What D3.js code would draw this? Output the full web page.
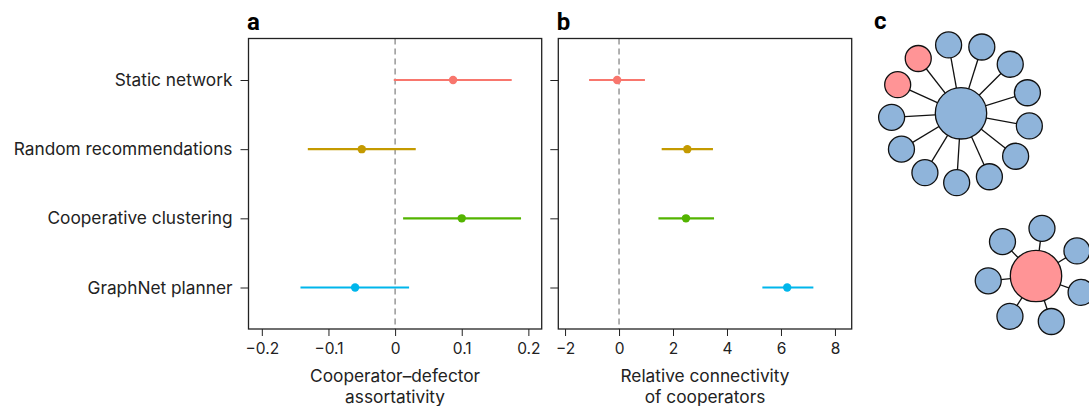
<!DOCTYPE html>
<meta charset="utf-8">
<style>
body {
  margin: 0;
  background: #fff;
  font-family: Inter, "Noto Sans", sans-serif;
}
.axis text {
  font-family: Inter, "Noto Sans", sans-serif;
  font-size: 15.5px;
  fill: #222;
}
.ylab text {
  font-size: 17.3px;
}
.axis path, .axis line {
  stroke: #222;
}
.frame {
  fill: none;
  stroke: #222;
  stroke-width: 1.3;
}
.panel {
  font-family: Roboto, Inter, sans-serif;
  font-weight: bold;
  font-size: 24px;
}
.node {
  stroke: #111;
  stroke-width: 1.3;
}
</style>
<body>
<script src="https://d3js.org/d3.v7.min.js"></script>
<script>

var width = 1089,
    height = 406;

var conditions = ["Static network", "Random recommendations", "Cooperative clustering", "GraphNet planner"];
var colors = ["#F8766D", "#C49A00", "#53B400", "#00B6EB"];

// assortativity: mean, lower, upper
var assortMean = [0.087, -0.050, 0.100, -0.060];
var assortLow  = [-0.002, -0.131, 0.012, -0.142];
var assortHigh = [0.175, 0.031, 0.189, 0.021];
var assortTicks = [-0.2, -0.1, 0, 0.1, 0.2];

// relative connectivity: mean, lower, upper
var connMean = [-0.07, 2.53, 2.48, 6.23];
var connLow  = [-1.11, 1.58, 1.46, 5.31];
var connHigh = [0.96, 3.48, 3.52, 7.20];
var connTicks = [-2, 0, 2, 4, 6, 8];

// network sketches: leaf types (1 = defector)
var starOneLeaves = [0, 0, 0, 0, 0, 0, 0, 1, 1, 0, 0, 0, 0];
var starOneHub = 0;
var starTwoLeaves = [0, 0, 0, 0, 0, 0, 0];
var starTwoHub = 1;
var nodeFill = ["#8FB4DA", "#FF9496"];

var svg = d3.select("body").append("svg")
    .attr("width", width)
    .attr("height", height);

var plotTop = 38.5, plotBottom = 329;

var y = d3.scaleLinear()
    .domain([0.4, 4.6])
    .range([plotTop, plotBottom]);

function forest(opts) {
  var x = d3.scaleLinear()
      .domain(opts.domain)
      .range([opts.left, opts.right]);

  var g = svg.append("g");

  g.append("line")
      .attr("x1", x(0)).attr("x2", x(0))
      .attr("y1", plotTop).attr("y2", plotBottom)
      .attr("stroke", "#888")
      .attr("stroke-width", 1.3)
      .attr("stroke-dasharray", "6,4");

  var rows = g.selectAll(".row")
      .data(conditions)
    .enter().append("g")
      .attr("class", "row");

  rows.append("line")
      .attr("x1", function(d, i) { return x(opts.low[i]); })
      .attr("x2", function(d, i) { return x(opts.high[i]); })
      .attr("y1", function(d, i) { return y(i + 1); })
      .attr("y2", function(d, i) { return y(i + 1); })
      .attr("stroke", function(d, i) { return colors[i]; })
      .attr("stroke-width", 2.2);

  rows.append("circle")
      .attr("cx", function(d, i) { return x(opts.mean[i]); })
      .attr("cy", function(d, i) { return y(i + 1); })
      .attr("r", 4.2)
      .attr("fill", function(d, i) { return colors[i]; });

  g.append("rect")
      .attr("class", "frame")
      .attr("x", opts.left)
      .attr("y", plotTop)
      .attr("width", opts.right - opts.left)
      .attr("height", plotBottom - plotTop);

  var xAxis = g.append("g")
      .attr("class", "axis")
      .attr("transform", "translate(0," + plotBottom + ")")
      .call(d3.axisBottom(x).tickValues(opts.ticks).tickSize(7).tickPadding(7)
        .tickFormat(function(d) { return d === 0 ? "0" : d3.format("")(d).replace("-", "\u2212"); }));
  xAxis.select(".domain").remove();

  var yAxis = g.append("g")
      .attr("class", "axis ylab")
      .attr("transform", "translate(" + opts.left + ",0)")
      .call(d3.axisLeft(y).tickValues([1, 2, 3, 4]).tickSize(8).tickPadding(8)
        .tickFormat(function(d) { return opts.labels ? conditions[d - 1] : ""; }));
  yAxis.select(".domain").remove();

  g.selectAll(".xtitle")
      .data(opts.title)
    .enter().append("text")
      .attr("x", (opts.left + opts.right) / 2)
      .attr("y", function(d, i) { return 382 + i * 20.5; })
      .attr("text-anchor", "middle")
      .attr("font-size", 17.3)
      .attr("fill", "#222")
      .text(function(d) { return d; });

  svg.append("text")
      .attr("class", "panel")
      .attr("x", opts.left - 1.5)
      .attr("y", 30)
      .text(opts.letter);
}

forest({
  left: 248.5, right: 541.7, domain: [-0.22, 0.22],
  mean: assortMean, low: assortLow, high: assortHigh, ticks: assortTicks,
  labels: true, letter: "a", title: ["Cooperator\u2013defector", "assortativity"]
});

forest({
  left: 558.3, right: 851.7, domain: [-2.25, 8.62],
  mean: connMean, low: connLow, high: connHigh, ticks: connTicks,
  labels: false, letter: "b", title: ["Relative connectivity", "of cooperators"]
});

svg.append("text")
    .attr("class", "panel")
    .attr("x", 874)
    .attr("y", 29)
    .text("c");

function star(cx, cy, spoke, start, leaves, hub) {
  var angle = d3.scaleLinear()
      .domain([0, leaves.length])
      .range([start, start + 2 * Math.PI]);
  var nodes = leaves.map(function(t, i) {
    var a = angle(i);
    return {x: cx + spoke * Math.cos(a), y: cy + spoke * Math.sin(a), type: t};
  });
  var g = svg.append("g");
  g.selectAll("line")
      .data(nodes)
    .enter().append("line")
      .attr("x1", cx).attr("y1", cy)
      .attr("x2", function(d) { return d.x; })
      .attr("y2", function(d) { return d.y; })
      .attr("stroke", "#111")
      .attr("stroke-width", 1.3);
  g.selectAll(".leaf")
      .data(nodes)
    .enter().append("circle")
      .attr("class", "node")
      .attr("cx", function(d) { return d.x; })
      .attr("cy", function(d) { return d.y; })
      .attr("r", 13)
      .attr("fill", function(d) { return nodeFill[d.type]; });
  g.append("circle")
      .attr("class", "node")
      .attr("cx", cx).attr("cy", cy)
      .attr("r", 25.7)
      .attr("fill", nodeFill[hub]);
}

star(961, 113.3, 69.5, 10.5 * Math.PI / 180, starOneLeaves, starOneHub);
star(1036, 276, 48, 20 * Math.PI / 180, starTwoLeaves, starTwoHub);

</script>
